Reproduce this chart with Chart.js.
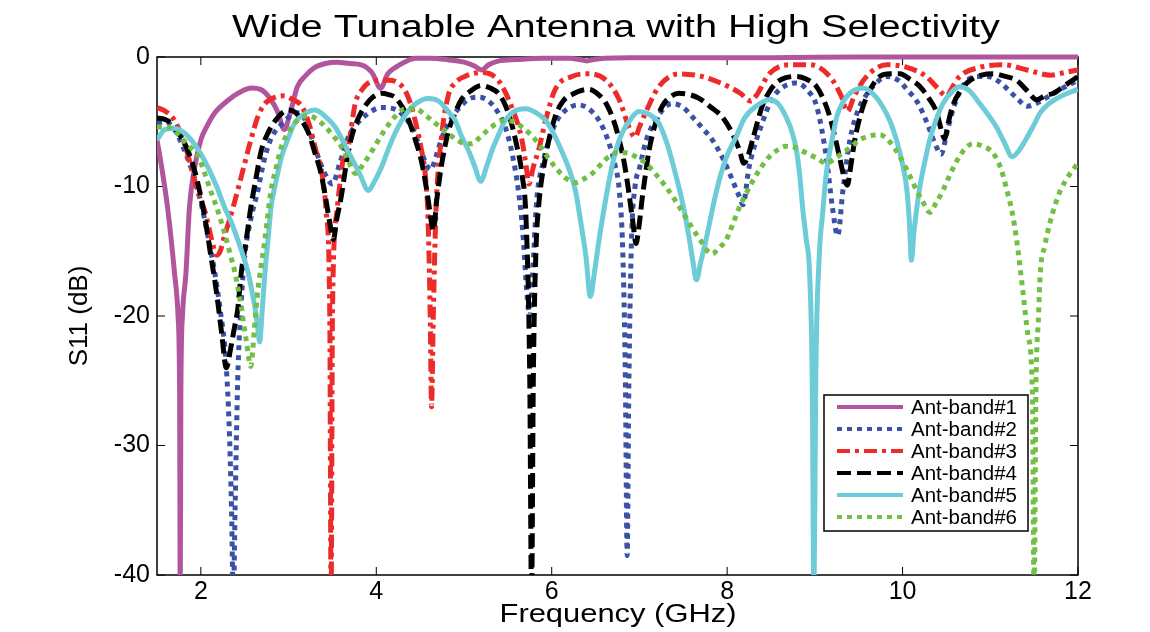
<!DOCTYPE html>
<html>
<head>
<meta charset="utf-8">
<script src="https://cdn.jsdelivr.net/npm/chart.js@4.4.1/dist/chart.umd.min.js"></script>
<style>
  html, body { margin: 0; padding: 0; background: #fff; }
</style>
</head>
<body>
<canvas id="myChart" width="1150" height="632"></canvas>
<script>
// Frequenzachse + Ticks
const xTickValues = [2, 4, 6, 8, 10, 12];
const yTickValues = [0, -10, -20, -30, -40];
const labels = ['Ant-band#1', 'Ant-band#2', 'Ant-band#3', 'Ant-band#4', 'Ant-band#5', 'Ant-band#6'];

// Werte (GHz / dB), Werte unter -40 sind abgeschnitten
const band1Freq = [1.5, 1.56, 1.62, 1.70, 1.74, 1.758, 1.765, 1.772, 1.79, 1.83, 1.87, 1.93, 2.0, 2.08, 2.16, 2.3, 2.45, 2.58, 2.68, 2.8, 2.88, 2.95, 3.02, 3.1, 3.2, 3.3, 3.42, 3.55, 3.7, 3.83, 3.95, 4.05, 4.13, 4.22, 4.32, 4.45, 4.6, 4.8, 5.0, 5.12, 5.2, 5.28, 5.4, 5.6, 5.9, 6.2, 6.32, 6.4, 6.48, 6.6, 6.9, 7.5, 8.5, 9.5, 10.5, 11.5, 12];
const band1S11 = [-6.4, -8.8, -11.6, -16.7, -20, -26, -42, -26, -20, -16.7, -11.6, -8.5, -6.4, -5.2, -4.3, -3.4, -2.7, -2.4, -2.5, -3.3, -4.3, -5.6, -4.3, -2.3, -1.4, -0.8, -0.5, -0.4, -0.5, -0.6, -1.2, -2.4, -1.3, -0.8, -0.4, -0.1, -0.1, -0.2, -0.4, -0.7, -1.0, -0.6, -0.3, -0.2, -0.1, -0.1, -0.2, -0.3, -0.2, -0.1, -0.05, -0.05, -0.05, 0, 0, 0, 0];

const band2Freq = [1.5, 1.6, 1.7, 1.8, 1.9, 2.0, 2.1, 2.16, 2.22, 2.28, 2.32, 2.35, 2.37, 2.39, 2.42, 2.46, 2.5, 2.57, 2.65, 2.72, 2.8, 2.92, 3.05, 3.12, 3.2, 3.3, 3.4, 3.5, 3.58, 3.68, 3.8, 3.9, 4.05, 4.2, 4.32, 4.42, 4.5, 4.57, 4.62, 4.68, 4.75, 4.85, 4.96, 5.07, 5.17, 5.28, 5.38, 5.47, 5.55, 5.62, 5.67, 5.72, 5.75, 5.78, 5.83, 5.9, 5.97, 6.06, 6.16, 6.3, 6.42, 6.54, 6.64, 6.72, 6.77, 6.81, 6.84, 6.86, 6.88, 6.91, 6.95, 7.0, 7.07, 7.14, 7.25, 7.37, 7.5, 7.6, 7.72, 7.83, 7.95, 8.06, 8.14, 8.18, 8.25, 8.4, 8.5, 8.6, 8.79, 8.92, 9.02, 9.13, 9.2, 9.26, 9.32, 9.4, 9.5, 9.6, 9.7, 9.82, 9.95, 10.05, 10.17, 10.28, 10.37, 10.44, 10.5, 10.56, 10.65, 10.74, 10.85, 10.97, 11.1, 11.2, 11.32, 11.42, 11.52, 11.65, 11.8, 12];
const band2S11 = [-5.1, -5.0, -5.6, -7.0, -8.8, -11.2, -14.5, -16.7, -19.5, -23, -28, -35, -42, -35, -25, -19, -15.4, -12.5, -10.3, -8.0, -6.3, -5.2, -4.4, -4.3, -5.0, -7.0, -8.8, -9.8, -8.3, -6.2, -5.0, -4.4, -3.9, -4.0, -4.6, -5.6, -7.0, -8.3, -8.7, -7.7, -6.2, -4.8, -3.8, -3.2, -3.1, -3.4, -4.2, -5.4, -7.5, -10.3, -13.5, -18.5, -20, -17, -11, -8.2, -6.4, -4.9, -4.1, -3.7, -4.0, -4.9, -6.4, -8.3, -10.3, -15, -25, -38.5, -25, -14.1, -10, -8.6, -6.6, -5.4, -4.2, -3.6, -3.9, -4.6, -5.5, -6.4, -7.8, -9.5, -10.8, -11.4, -8.5, -5.1, -3.4, -2.5, -2.0, -2.6, -3.8, -7.7, -11.6, -13.8, -10.3, -6.4, -4.0, -2.8, -2.0, -1.5, -1.8, -2.5, -3.5, -5.1, -6.7, -7.5, -6.0, -4.4, -2.7, -1.8, -1.5, -1.5, -1.9, -2.5, -3.3, -3.8, -3.6, -3.1, -2.5, -1.8];

const band3Freq = [1.5, 1.6, 1.7, 1.8, 1.89, 1.97, 2.05, 2.12, 2.18, 2.22, 2.27, 2.33, 2.42, 2.5, 2.57, 2.65, 2.73, 2.85, 2.95, 3.05, 3.15, 3.24, 3.31, 3.38, 3.43, 3.47, 3.485, 3.5, 3.55, 3.62, 3.68, 3.76, 3.84, 3.91, 4.02, 4.14, 4.25, 4.33, 4.4, 4.45, 4.51, 4.56, 4.59, 4.615, 4.63, 4.65, 4.68, 4.74, 4.82, 4.9, 5.01, 5.2, 5.39, 5.54, 5.66, 5.71, 5.74, 5.79, 5.85, 5.93, 6.04, 6.23, 6.42, 6.62, 6.77, 6.88, 6.95, 7.0, 7.07, 7.22, 7.45, 7.71, 8.02, 8.15, 8.27, 8.33, 8.48, 8.71, 8.94, 9.17, 9.3, 9.37, 9.45, 9.59, 9.82, 10.05, 10.27, 10.4, 10.5, 10.58, 10.65, 10.88, 11.14, 11.42, 11.69, 11.85, 12];
const band3S11 = [-3.9, -4.2, -4.9, -6.4, -8.5, -10.5, -12.0, -14.0, -15.3, -15.0, -13.8, -12.5, -10.3, -8.2, -6.4, -4.6, -3.6, -3.1, -3.0, -3.3, -3.8, -5.3, -7.2, -9.0, -12.0, -20, -42, -20, -12.0, -8.0, -6.9, -3.6, -2.5, -2.0, -1.8, -1.8, -2.0, -2.6, -3.8, -5.1, -7.0, -9.2, -12.5, -20, -27, -20, -12, -6.4, -3.0, -2.0, -1.5, -1.2, -1.8, -3.8, -6.4, -8.5, -9.8, -8.5, -7.2, -4.9, -2.5, -1.5, -1.3, -1.8, -3.3, -5.4, -6.2, -5.4, -4.3, -2.3, -1.3, -1.5, -2.3, -2.8, -3.4, -3.0, -1.3, -0.6, -0.6, -1.5, -3.0, -4.2, -3.0, -1.5, -0.6, -0.8, -1.5, -2.4, -3.0, -2.2, -1.5, -0.8, -0.6, -1.0, -1.4, -1.2, -1.0];

const band4Freq = [1.5, 1.58, 1.66, 1.75, 1.85, 1.93, 2.0, 2.06, 2.11, 2.16, 2.2, 2.24, 2.29, 2.34, 2.38, 2.42, 2.46, 2.52, 2.57, 2.63, 2.69, 2.77, 2.85, 2.93, 3.0, 3.08, 3.15, 3.23, 3.3, 3.37, 3.42, 3.47, 3.51, 3.55, 3.6, 3.65, 3.71, 3.79, 3.87, 3.96, 4.06, 4.14, 4.21, 4.3, 4.37, 4.45, 4.52, 4.58, 4.63, 4.65, 4.69, 4.74, 4.82, 4.9, 4.97, 5.08, 5.2, 5.3, 5.39, 5.47, 5.54, 5.6, 5.66, 5.71, 5.75, 5.77, 5.79, 5.82, 5.85, 5.93, 6.04, 6.13, 6.23, 6.42, 6.55, 6.62, 6.7, 6.77, 6.83, 6.88, 6.93, 6.96, 7.0, 7.03, 7.07, 7.11, 7.18, 7.26, 7.35, 7.45, 7.57, 7.68, 7.8, 7.94, 8.06, 8.14, 8.19, 8.24, 8.29, 8.4, 8.48, 8.56, 8.67, 8.79, 8.9, 9.02, 9.1, 9.17, 9.23, 9.28, 9.33, 9.37, 9.41, 9.45, 9.5, 9.55, 9.64, 9.74, 9.86, 9.97, 10.08, 10.2, 10.3, 10.39, 10.44, 10.48, 10.52, 10.57, 10.66, 10.77, 10.9, 11.04, 11.17, 11.3, 11.42, 11.53, 11.62, 11.72, 11.85, 12];
const band4S11 = [-4.7, -4.8, -5.1, -5.9, -7.2, -8.8, -10.8, -13, -15.2, -17.3, -19.3, -21.5, -24.0, -22.5, -21.0, -19.5, -16.7, -14, -11.6, -9.3, -7.2, -5.8, -4.9, -4.3, -4.1, -4.3, -4.9, -5.9, -7.4, -9.0, -10.8, -12.8, -14.1, -12.5, -10.8, -8.6, -6.4, -4.8, -3.8, -3.1, -2.8, -2.9, -3.1, -3.9, -4.9, -6.5, -8.2, -10.5, -12.8, -13.4, -11, -8.5, -5.8, -4.3, -3.3, -2.6, -2.2, -2.4, -2.8, -3.7, -5.1, -6.8, -9.0, -13, -25, -42, -25, -15, -11.6, -7.7, -4.6, -3.4, -2.9, -2.5, -3.0, -3.6, -4.8, -6.4, -8.3, -10.5, -13, -14.4, -12.8, -11, -9.0, -7.2, -5.2, -3.8, -3.1, -2.8, -2.9, -3.2, -3.8, -4.6, -5.9, -7.2, -8.2, -7.6, -6.4, -3.8, -2.7, -2.0, -1.6, -1.5, -1.7, -2.3, -3.3, -4.6, -6.2, -7.7, -9.2, -9.9, -8.4, -6.6, -5.0, -3.8, -2.4, -1.5, -1.3, -1.3, -1.7, -2.3, -3.2, -4.3, -5.6, -6.3, -5.1, -3.8, -2.6, -1.8, -1.4, -1.3, -1.5, -1.8, -2.6, -3.3, -3.0, -2.8, -2.2, -1.5];

const band5Freq = [1.5, 1.59, 1.7, 1.8, 1.89, 2.0, 2.08, 2.18, 2.27, 2.35, 2.42, 2.48, 2.54, 2.58, 2.62, 2.65, 2.67, 2.7, 2.73, 2.77, 2.8, 2.86, 2.92, 3.0, 3.07, 3.18, 3.3, 3.42, 3.53, 3.62, 3.71, 3.81, 3.91, 3.98, 4.06, 4.15, 4.25, 4.35, 4.45, 4.59, 4.71, 4.82, 4.9, 4.97, 5.05, 5.12, 5.19, 5.26, 5.32, 5.4, 5.47, 5.57, 5.7, 5.82, 5.93, 6.02, 6.11, 6.2, 6.27, 6.33, 6.39, 6.44, 6.49, 6.54, 6.6, 6.65, 6.72, 6.8, 6.9, 6.99, 7.1, 7.22, 7.32, 7.41, 7.5, 7.57, 7.61, 7.65, 7.7, 7.76, 7.84, 7.91, 8.0, 8.1, 8.2, 8.33, 8.48, 8.58, 8.67, 8.74, 8.79, 8.83, 8.86, 8.9, 8.94, 8.97, 8.99, 9.01, 9.05, 9.09, 9.13, 9.19, 9.25, 9.32, 9.4, 9.55, 9.67, 9.77, 9.86, 9.93, 10.0, 10.05, 10.08, 10.1, 10.13, 10.16, 10.19, 10.25, 10.31, 10.38, 10.46, 10.56, 10.65, 10.76, 10.88, 10.98, 11.07, 11.16, 11.25, 11.33, 11.42, 11.5, 11.57, 11.67, 11.76, 11.88, 12];
const band5S11 = [-6.4, -5.6, -5.5, -5.8, -6.4, -7.5, -8.5, -10, -11.6, -12.8, -14.1, -15.3, -16.7, -18, -19.5, -21, -22, -19.5, -16.7, -13.8, -11.6, -9.5, -7.7, -6.2, -5.1, -4.4, -4.1, -4.6, -5.4, -6.5, -7.7, -9.0, -10.3, -9.6, -8.5, -6.9, -5.4, -4.3, -3.6, -3.2, -3.4, -4.2, -4.9, -6.1, -7.2, -8.4, -9.6, -8.4, -7.2, -5.9, -4.9, -4.2, -4.0, -4.3, -4.9, -5.9, -7.2, -8.7, -10.3, -12.7, -15.4, -18.5, -16.5, -14.1, -11.6, -9.7, -7.5, -5.9, -4.8, -4.2, -4.4, -5.1, -6.8, -9.0, -11.5, -14.1, -15.8, -17.2, -15.8, -14.1, -11.5, -9.5, -7.6, -6.2, -4.7, -3.8, -3.3, -3.6, -4.6, -5.8, -7.2, -9.3, -11.6, -14, -16.7, -25, -42, -25, -15.4, -12, -9.0, -6.6, -4.6, -3.5, -2.8, -2.4, -2.9, -3.8, -5.0, -6.4, -8.3, -10.3, -13, -15.7, -13.5, -11.8, -10.3, -8.2, -6.4, -4.9, -3.6, -2.7, -2.3, -2.6, -3.6, -4.5, -5.4, -6.6, -7.7, -7.2, -6.2, -5.2, -4.3, -3.6, -3.2, -2.8, -2.5];

const band6Freq = [1.5, 1.62, 1.7, 1.77, 1.87, 1.97, 2.04, 2.11, 2.19, 2.27, 2.33, 2.39, 2.46, 2.52, 2.57, 2.61, 2.65, 2.69, 2.73, 2.8, 2.86, 2.92, 3.0, 3.07, 3.15, 3.22, 3.32, 3.42, 3.51, 3.6, 3.68, 3.76, 3.84, 3.91, 4.0, 4.1, 4.2, 4.29, 4.37, 4.45, 4.56, 4.67, 4.8, 4.92, 5.02, 5.09, 5.18, 5.28, 5.38, 5.47, 5.56, 5.66, 5.76, 5.85, 5.95, 6.04, 6.15, 6.27, 6.37, 6.46, 6.56, 6.65, 6.75, 6.85, 6.96, 7.07, 7.18, 7.3, 7.42, 7.53, 7.62, 7.71, 7.78, 7.83, 7.9, 7.99, 8.07, 8.14, 8.22, 8.29, 8.38, 8.48, 8.57, 8.67, 8.78, 8.9, 9.02, 9.13, 9.22, 9.32, 9.42, 9.51, 9.62, 9.74, 9.86, 9.97, 10.07, 10.16, 10.24, 10.31, 10.38, 10.46, 10.54, 10.62, 10.71, 10.8, 10.92, 11.03, 11.12, 11.19, 11.25, 11.3, 11.37, 11.43, 11.48, 11.5, 11.52, 11.55, 11.57, 11.62, 11.68, 11.74, 11.8, 11.9, 12];
const band6S11 = [-5.4, -5.4, -5.7, -6.2, -6.9, -7.7, -8.9, -10.3, -11.8, -13.6, -15.1, -16.7, -19.3, -22, -23.9, -21, -18, -16, -14.1, -10.3, -8.5, -6.9, -5.8, -5.1, -4.7, -4.5, -4.8, -5.4, -6.1, -6.9, -8.0, -9.0, -8.4, -7.7, -6.7, -5.6, -4.7, -4.1, -4.0, -4.0, -4.5, -5.1, -5.8, -6.4, -6.7, -6.7, -6.2, -5.6, -5.1, -4.9, -5.0, -5.4, -6.0, -6.7, -7.7, -8.5, -9.3, -9.7, -9.4, -9.0, -8.3, -7.7, -7.4, -7.4, -7.7, -8.2, -9.0, -10.0, -11.2, -12.4, -13.4, -14.3, -15.0, -15.2, -14.8, -14.1, -12.8, -11.6, -10.5, -9.6, -8.6, -7.7, -7.2, -6.9, -7.0, -7.4, -7.8, -8.2, -7.9, -7.4, -6.9, -6.4, -6.1, -6.0, -6.6, -7.7, -9.0, -10.3, -11.3, -12.0, -11.3, -10.3, -9.1, -8.0, -7.1, -6.7, -6.9, -7.4, -8.6, -10.3, -12.0, -14.1, -18, -21.5, -26, -42, -26, -20, -16.7, -14.6, -12.8, -11.4, -10.3, -9.1, -8.2];

const bandFreqs = [band1Freq, band2Freq, band3Freq, band4Freq, band5Freq, band6Freq];
const bandS11 = [band1S11, band2S11, band3S11, band4S11, band5S11, band6S11];

// Linienstile wie im Original (Matlab)
const colors = ['#b1559f', '#3a51a6', '#ee2b2b', '#000000', '#6ecbd8', '#72bf45'];
const dashes = [[], [5, 5], [13, 5, 4, 5], [14, 6], [], [5, 5]];

const FONT = '"Liberation Sans", Arial, Helvetica, sans-serif';

const datasets = labels.map((lab, i) => ({
    label: lab,
    data: bandFreqs[i].map((f, j) => ({ x: f, y: bandS11[i][j] })),
    borderColor: colors[i],
    backgroundColor: colors[i],
    borderWidth: 5,
    borderDash: dashes[i],
    pointRadius: 0,
    fill: false,
    cubicInterpolationMode: 'monotone',
    clip: { left: 0, right: 0, top: 6, bottom: 0 },
    order: labels.length - i
}));

// Rahmen mit Ticks nach innen, Titel und Legende
const matlabLook = {
    id: 'matlabLook',
    beforeDatasetsDraw(chart) {
        const { ctx, chartArea: a, scales } = chart;
        ctx.save();
        ctx.strokeStyle = '#000';
        ctx.lineWidth = 1.5;
        ctx.strokeRect(a.left, a.top, a.right - a.left, a.bottom - a.top);
        ctx.beginPath();
        xTickValues.forEach(v => {
            const px = scales.x.getPixelForValue(v);
            ctx.moveTo(px, a.bottom); ctx.lineTo(px, a.bottom - 8);
            ctx.moveTo(px, a.top); ctx.lineTo(px, a.top + 8);
        });
        yTickValues.forEach(v => {
            const py = scales.y.getPixelForValue(v);
            ctx.moveTo(a.left, py); ctx.lineTo(a.left + 8, py);
            ctx.moveTo(a.right, py); ctx.lineTo(a.right - 8, py);
        });
        ctx.lineWidth = 1;
        ctx.stroke();
        ctx.restore();
    },
    afterDraw(chart) {
        const { ctx } = chart;
        ctx.save();
        ctx.fillStyle = '#000';
        ctx.textAlign = 'center';
        ctx.textBaseline = 'middle';

        // Titel (im Original breit gezogen)
        ctx.font = '31px ' + FONT;
        const title = 'Wide Tunable Antenna with High Selectivity';
        const tw = ctx.measureText(title).width;
        ctx.save();
        ctx.translate(616, 28);
        ctx.scale(768 / tw, 1);
        ctx.fillText(title, 0, 0);
        ctx.restore();

        // x-Achsentitel
        ctx.font = '26px ' + FONT;
        const xt = 'Frequency (GHz)';
        const xw = ctx.measureText(xt).width;
        ctx.save();
        ctx.translate(618, 615);
        ctx.scale(237 / xw, 1);
        ctx.fillText(xt, 0, 0);
        ctx.restore();

        // Legende
        const lx = 824, ly = 395, lw = 204, lh = 136;
        ctx.fillStyle = '#fff';
        ctx.fillRect(lx, ly, lw, lh);
        ctx.strokeStyle = '#000';
        ctx.lineWidth = 1.5;
        ctx.strokeRect(lx, ly, lw, lh);
        ctx.font = '20px ' + FONT;
        ctx.textAlign = 'left';
        chart.data.datasets.forEach((ds, i) => {
            const y = ly + 12 + i * 22;
            ctx.beginPath();
            ctx.setLineDash(ds.borderDash);
            ctx.strokeStyle = ds.borderColor;
            ctx.lineWidth = 4;
            ctx.moveTo(lx + 13, y);
            ctx.lineTo(lx + 79, y);
            ctx.stroke();
            ctx.setLineDash([]);
            ctx.fillStyle = '#000';
            const w = ctx.measureText(ds.label).width;
            ctx.save();
            ctx.translate(lx + 87, y + 1);
            ctx.scale(106 / w, 1);
            ctx.fillText(ds.label, 0, 0);
            ctx.restore();
        });
        ctx.restore();
    }
};

const ctx = document.getElementById('myChart').getContext('2d');
const myChart = new Chart(ctx, {
    type: 'line',
    data: { datasets: datasets },
    options: {
        responsive: false,
        animation: false,
        devicePixelRatio: 1,
        layout: { padding: { top: 57, right: 72, left: 0, bottom: 0 } },
        plugins: {
            legend: { display: false },
            title: { display: false },
            tooltip: { enabled: false }
        },
        scales: {
            x: {
                type: 'linear',
                min: 1.5,
                max: 12,
                afterBuildTicks: s => { s.ticks = xTickValues.map(v => ({ value: v })); },
                afterFit: s => { s.height = 57; },
                grid: { display: false, drawTicks: false },
                border: { display: false },
                ticks: {
                    color: '#000',
                    font: { family: FONT, size: 25 },
                    padding: 2,
                    maxRotation: 0,
                    autoSkip: false
                }
            },
            y: {
                type: 'linear',
                min: -40,
                max: 0,
                afterBuildTicks: s => { s.ticks = yTickValues.map(v => ({ value: v })); },
                afterFit: s => { s.width = 157; },
                grid: { display: false, drawTicks: false },
                border: { display: false },
                ticks: {
                    color: '#000',
                    font: { family: FONT, size: 25 },
                    padding: 7,
                    autoSkip: false
                },
                title: {
                    display: true,
                    text: 'S11 (dB)',
                    color: '#000',
                    font: { family: FONT, size: 26 },
                    padding: { top: 64, bottom: 0 }
                }
            }
        }
    },
    plugins: [matlabLook]
});
</script>
</body>
</html>
